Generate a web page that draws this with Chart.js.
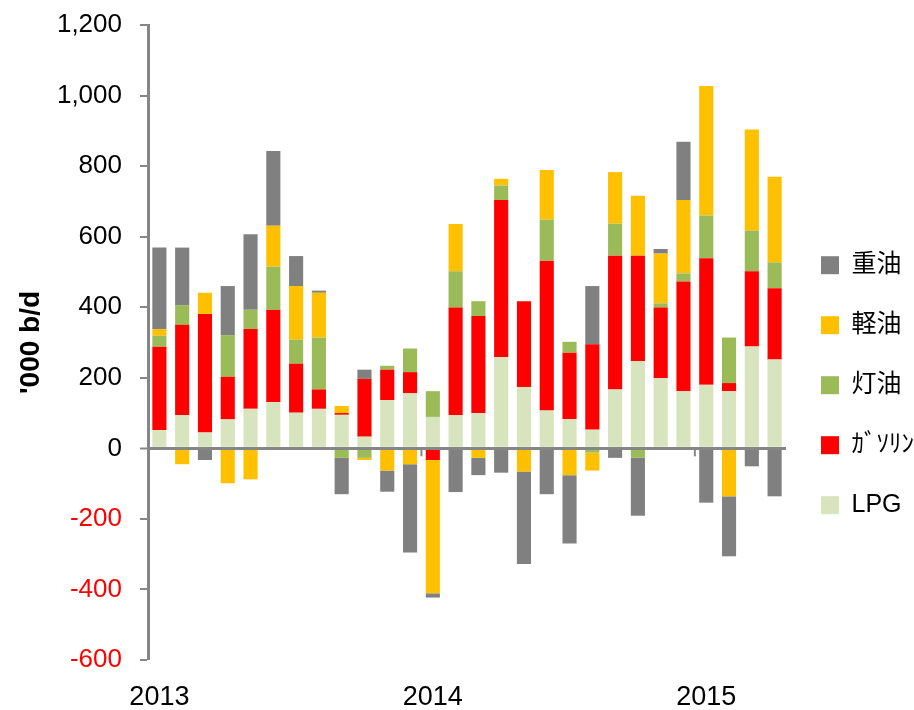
<!DOCTYPE html>
<html>
<head>
<meta charset="utf-8">
<script src="https://cdn.jsdelivr.net/npm/chart.js@4/dist/chart.umd.min.js"></script>
<style>
  html,body{margin:0;padding:0;background:#fff;}
  #wrap{width:914px;height:710px;}
</style>
</head>
<body>
<div id="wrap"><canvas id="c" width="914" height="710"></canvas></div>
<script>
// monthly product balance, Jan 2013 - Apr 2015 ('000 b/d)
const months = [
  "2013-01","2013-02","2013-03","2013-04","2013-05","2013-06","2013-07","2013-08","2013-09","2013-10","2013-11","2013-12",
  "2014-01","2014-02","2014-03","2014-04","2014-05","2014-06","2014-07","2014-08","2014-09","2014-10","2014-11","2014-12",
  "2015-01","2015-02","2015-03","2015-04"
];
const lpg      = [52, 94, 45, 82,112,131,101,112, 95, 33,137,156,  89, 94,100,259,174,107, 83, 53,167,247,199,162, 180,162,289,252];
const gasoline = [236,256,336,121,226,262,139, 55,  5,164, 86, 60, -33,305,275,445,243,425,188,242,379,299,200,311, 359, 23,213,202];
const kerosene = [31, 56,  0,118, 55,122, 68,147,-27,-27, 11, 67,  73,103, 42, 41, -3,116, 31,-12, 91,-27, 12, 23, 121,129,115, 73];
const diesel   = [19,-45, 60,-99,-88,116,152,127, 20, -6,-63,-45,-378,134,-27, 19,-63,141,-76,-51,146,170,141,208, 367,-136,287,243];
const fuelOil  = [231,163,-33,139,214,212, 85,  6,-103,26,-60,-250,-12,-124,-49,-69,-262,-130,-194,165,-27,-164,13,165,-154,-170,-51,-136];

const names  = ["LPG","ｶﾞｿﾘﾝ","灯油","軽油","重油"];
const colors = ["#D7E4BD","#FF0000","#9BBB59","#FFC000","#808080"];
const yTicks = {min:-600, max:1200, step:200};

const AXIS = "#868686";
const FONT = "'Liberation Sans', Arial, 'Noto Sans CJK JP', sans-serif";

// small tick marks on the zero line between Dec and Jan
const yearTicks = {
  id:"yearTicks",
  afterDatasetsDraw(chart){
    const {ctx, scales:{x,y}} = chart;
    const y0 = y.getPixelForValue(0);
    ctx.save();
    ctx.strokeStyle = AXIS; ctx.lineWidth = 2;
    months.forEach((m,i)=>{
      if(i===0 || !m.endsWith("-01")) return;
      const px = (x.getPixelForValue(i-1)+x.getPixelForValue(i))/2;
      ctx.beginPath(); ctx.moveTo(px,y0); ctx.lineTo(px,y0+8); ctx.stroke();
    });
    ctx.restore();
  }
};

const series = [lpg, gasoline, kerosene, diesel, fuelOil];

new Chart(document.getElementById("c"), {
  type:"bar",
  data:{
    labels: months,
    datasets: series.map((d,i)=>({
      label:names[i], data:d, backgroundColor:colors[i], borderWidth:0,
      categoryPercentage:1, barPercentage:0.62
    }))
  },
  options:{
    responsive:false,
    animation:false,
    layout:{padding:{top:25, right:0, left:0, bottom:0}},
    plugins:{
      tooltip:{enabled:false},
      legend:{
        position:"right",
        reverse:true,
        maxWidth:128,
        title:{display:true, text:" ", padding:{top:21, bottom:0}, font:{size:12}},
        labels:{
          boxWidth:18, boxHeight:18, padding:35, color:"#000",
          font:{family:FONT, size:25}
        }
      }
    },
    scales:{
      x:{
        stacked:true,
        grid:{display:false, drawTicks:false},
        border:{display:false},
        afterFit(s){ s.height = 50; },
        ticks:{
          autoSkip:false, maxRotation:0, padding:21, color:"#000",
          font:{family:FONT, size:27},
          callback(v,i){ const m = months[i]; return m.endsWith("-01") ? m.slice(0,4) : ""; }
        }
      },
      y:{
        stacked:true,
        min:yTicks.min, max:yTicks.max,
        afterFit(s){ s.width = 148; s.paddingTop = 0; s.paddingBottom = 0; },
        border:{color:AXIS, width:3, z:2},
        grid:{
          z:1, drawTicks:true, tickLength:8, tickColor:AXIS, tickWidth:2,
          color:c=> c.tick && c.tick.value===0 ? AXIS : "rgba(0,0,0,0)",
          lineWidth:c=> c.tick && c.tick.value===0 ? 3 : 0
        },
        ticks:{
          stepSize:yTicks.step, padding:18,
          font:{family:FONT, size:26},
          color:c=> c.tick.value<0 ? "#FF0000" : "#000",
          callback:v=> v.toLocaleString("en-US")
        },
        title:{
          display:true, text:"'000 b/d", color:"#000",
          font:{family:FONT, size:28, weight:"bold"},
          padding:{top:14, bottom:0}
        }
      }
    }
  },
  plugins:[yearTicks]
});
</script>
</body>
</html>
